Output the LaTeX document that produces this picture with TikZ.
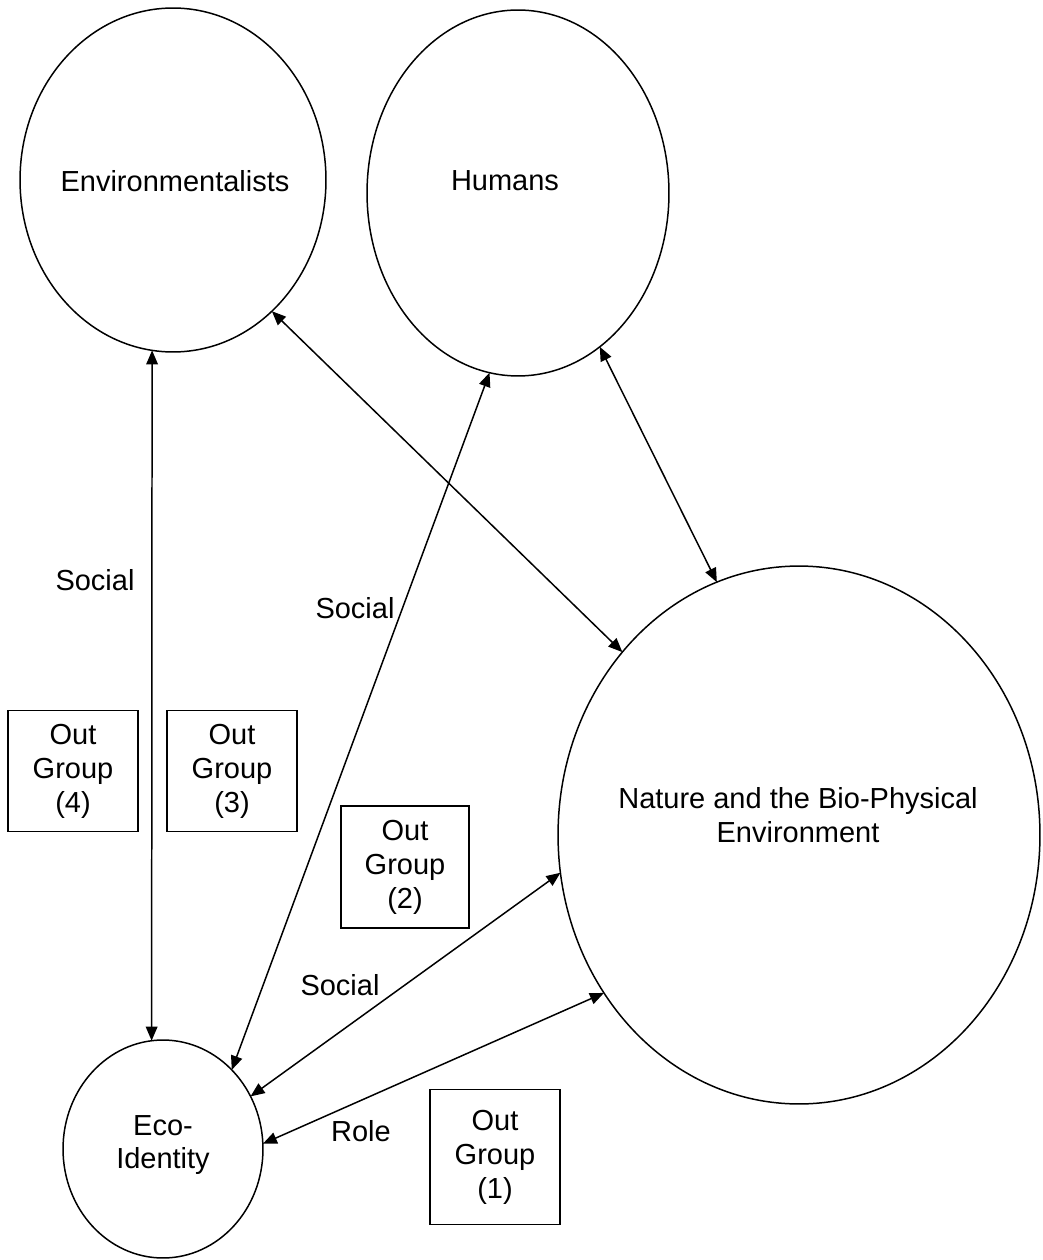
\documentclass[tikz,border=0pt]{standalone}
\usepackage{fontspec}
\setmainfont{Liberation Sans}
\usetikzlibrary{arrows.meta,shapes.geometric}
\begin{document}
\begin{tikzpicture}[x=0.02cm,y=-0.02cm,
  font=\fontsize{16.5pt}{19.3pt}\selectfont,
  oval/.style={draw,ellipse,line width=0.85pt,inner sep=0pt,outer sep=0pt},
  txt/.style={align=center,inner sep=0pt},
  groupbox/.style={draw,line width=0.85pt,minimum width=2.6cm,minimum height=2.42cm,align=center,inner sep=0pt},
  link/.style={line width=0.85pt,{Triangle[length=8pt,width=6.6pt]}-{Triangle[length=8pt,width=6.6pt]}}]
\useasboundingbox (0,0) rectangle (1042,1260);
% the four actors
\node[oval,minimum width=6.12cm,minimum height=6.88cm] (env) at (173,180) {};
\node[oval,minimum width=6.04cm,minimum height=7.32cm] (hum) at (518,193) {};
\node[oval,minimum width=9.64cm,minimum height=10.76cm] (nat) at (799,835) {};
\node[oval,minimum width=4.0cm,minimum height=4.36cm] (eco) at (163,1149) {};
\node[txt] (envt) at (175,181) {Environmentalists};
\node[txt] (humt) at (505,181) {Humans};
\node[txt] (natt) at (798,815) {Nature and the Bio-Physical\\Environment};
\node[txt] (ecot) at (163,1145) {Eco-\\Identity};
% out-group boxes
\node[groupbox] (og4) at (73,771) {Out\\Group\\(4)};
\node[groupbox] (og3) at (232,771) {Out\\Group\\(3)};
\node[groupbox,minimum width=2.56cm,minimum height=2.44cm] (og2) at (405,867) {Out\\Group\\(2)};
\node[groupbox,minimum width=2.6cm,minimum height=2.7cm] (og1) at (495,1157) {Out\\Group\\(1)};
% relations
\draw[link] (env.-97.6) -- (eco.96.8);
\draw[link] (env.-53.8) -- (nat.134);
\draw[link] (hum.-99.5) -- (eco.49.5);
\draw[link] (hum.-62) -- (nat.108.5);
\draw[link] (eco.31.8) -- (nat.189.4);
\draw[link] (eco.3.4) -- (nat.219);
% relation labels
\node[txt] (l1) at (95,580) {Social};
\node[txt] (l2) at (355,608) {Social};
\node[txt] (l3) at (340,985) {Social};
\node[txt] (l4) at (361,1131) {Role};
\end{tikzpicture}
\end{document}
